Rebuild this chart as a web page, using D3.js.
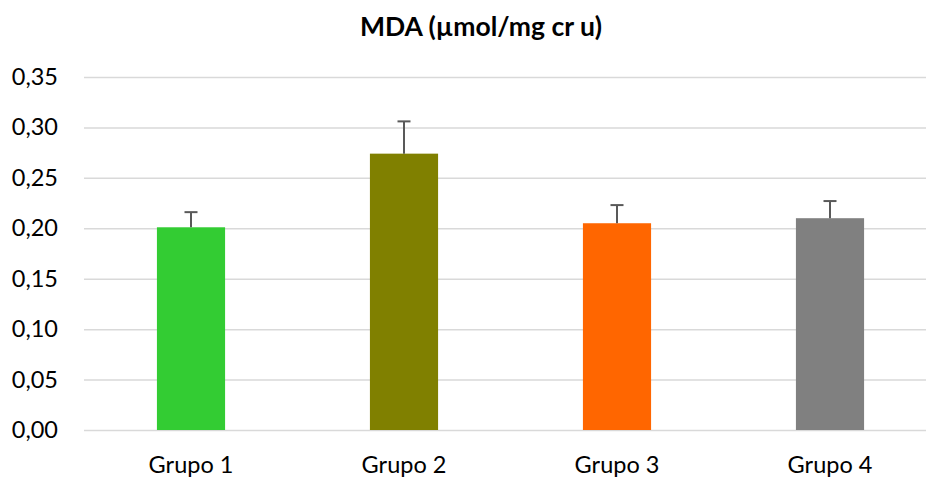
<!DOCTYPE html>
<html><head><meta charset="utf-8">
<script src="https://cdn.jsdelivr.net/npm/d3@7"></script>
<style>body{margin:0;background:#fff;} svg{display:block;}</style>
</head><body>
<svg id="chart" width="926" height="477"></svg>
<script>
const categories = ["Grupo 1", "Grupo 2", "Grupo 3", "Grupo 4"];
const values = [0.201, 0.274, 0.205, 0.210];
const errors = [0.015, 0.032, 0.018, 0.017];
const colors = ["#33CC33", "#808000", "#FF6600", "#808080"];
const yTicks = [0, 0.05, 0.10, 0.15, 0.20, 0.25, 0.30, 0.35];
const title = "MDA (µmol/mg cr u)";

const svg = d3.select("#chart");
const font = "Lato, 'Open Sans', sans-serif";
const x = d3.scaleBand().domain(categories).range([84.5, 936.5]).paddingInner(0.68).paddingOuter(0.34);
const y = d3.scaleLinear().domain([0, 0.35]).range([430, 77]);

svg.append("text").attr("x", 481).attr("y", 36).attr("text-anchor", "middle")
  .attr("font-family", font).attr("font-weight", "bold").attr("font-size", 26.5).attr("fill", "#000").text(title);

const fmt = d => d3.format(".2f")(d).replace(".", ",");
const yAxis = svg.append("g").attr("transform", "translate(84,0)")
  .call(d3.axisLeft(y).tickValues(yTicks).tickFormat(fmt).tickSize(-842).tickPadding(26));
yAxis.select(".domain").remove();
yAxis.selectAll("line").attr("stroke", "#d9d9d9").attr("stroke-width", 1.5);
yAxis.selectAll("text").attr("font-family", font).attr("font-size", 23.5).attr("fill", "#000");

svg.selectAll("rect.bar").data(categories).enter().append("rect").attr("class","bar")
  .attr("x", d => x(d)).attr("width", x.bandwidth())
  .attr("y", (d,i) => y(values[i])).attr("height", (d,i) => y(0) - y(values[i]))
  .attr("fill", (d,i) => colors[i]);

const eg = svg.selectAll("g.err").data(categories).enter().append("g").attr("class","err");
eg.append("line").attr("x1", d => x(d)+x.bandwidth()/2).attr("x2", d => x(d)+x.bandwidth()/2)
  .attr("y1", (d,i) => y(values[i])).attr("y2", (d,i) => y(values[i]+errors[i]))
  .attr("stroke", "#595959").attr("stroke-width", 2);
eg.append("line").attr("x1", d => x(d)+x.bandwidth()/2-6.5).attr("x2", d => x(d)+x.bandwidth()/2+6.5)
  .attr("y1", (d,i) => y(values[i]+errors[i])).attr("y2", (d,i) => y(values[i]+errors[i]))
  .attr("stroke", "#595959").attr("stroke-width", 2);

svg.selectAll("text.cat").data(categories).enter().append("text").attr("class","cat")
  .attr("x", d => x(d)+x.bandwidth()/2).attr("y", 472.5).attr("text-anchor", "middle")
  .attr("font-family", font).attr("font-size", 23.5).attr("fill", "#000").text(d => d);
</script>
</body></html>
